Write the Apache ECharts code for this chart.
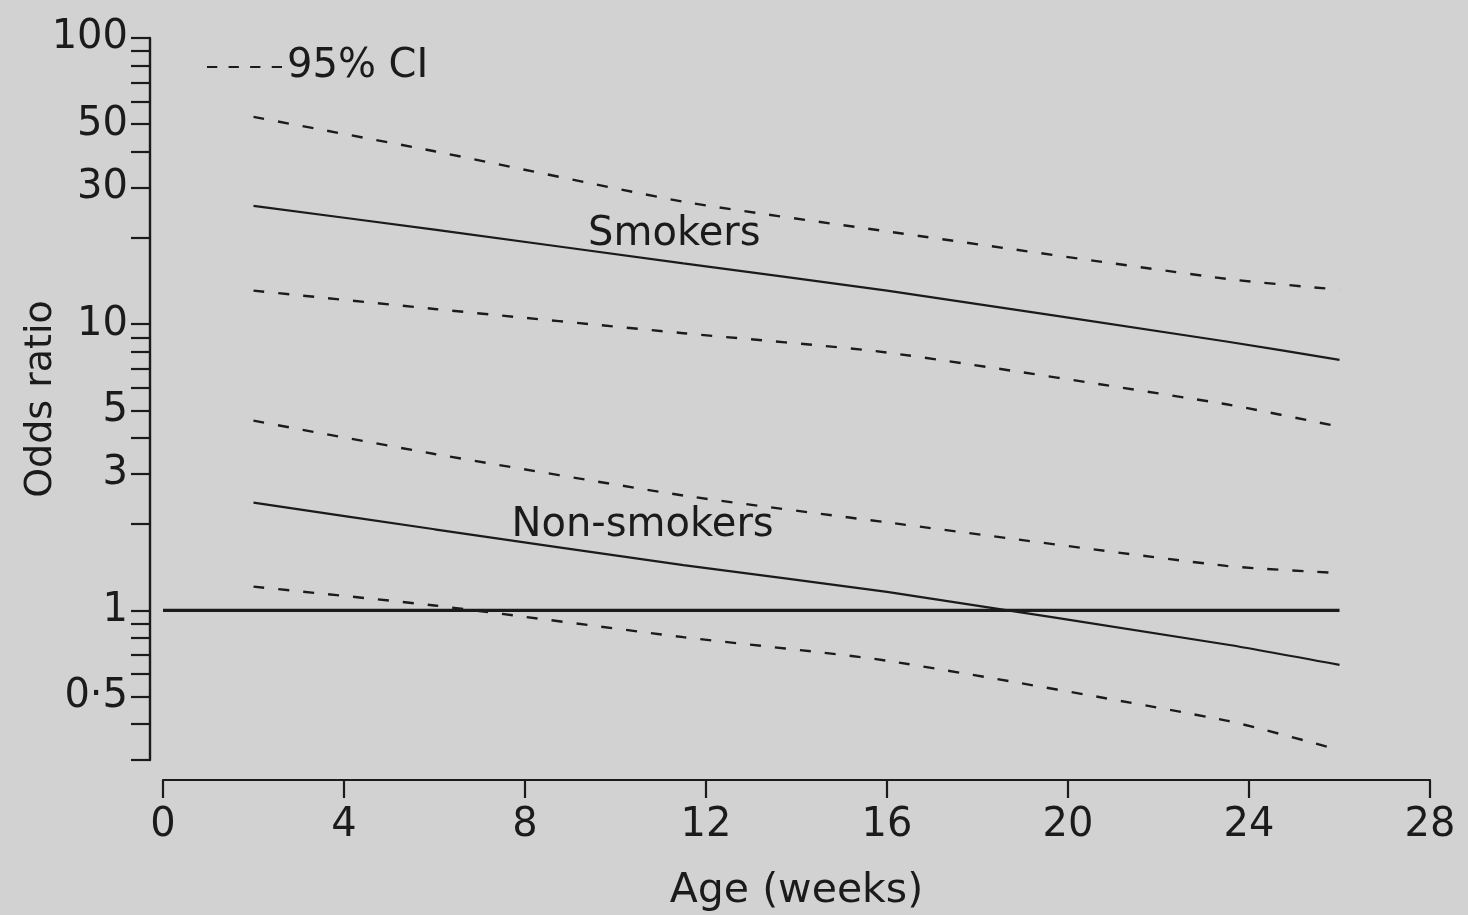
<!DOCTYPE html>
<html>
<head>
<meta charset="utf-8">
<title>Odds ratio by age</title>
<script src="https://cdn.jsdelivr.net/npm/echarts@6/dist/echarts.min.js"></script>
<style>
  html, body { margin: 0; padding: 0; background: #d2d2d2; }
  #chart { width: 1468px; height: 915px; }
</style>
</head>
<body>
<div id="chart"></div>
<script>
// Age in weeks at which each fitted curve is evaluated
const ageWeeks = [2, 6, 11.5, 16, 23.5, 26];

// Smokers: fitted odds ratio and 95% confidence limits
const smokersOR    = [25.9, 21.4, 16.3, 13.1, 8.7, 7.5];
const smokersUpper = [53, 40.2, 26.8, 21.1, 14.4, 13.2];
const smokersLower = [13.1, 11.3, 9.3, 7.96, 5.25, 4.38];

// Non-smokers: fitted odds ratio and 95% confidence limits
const nonSmokersOR    = [2.38, 1.92, 1.44, 1.16, 0.76, 0.645];
const nonSmokersUpper = [4.6, 3.52, 2.52, 2.03, 1.43, 1.35];
const nonSmokersLower = [1.21, 1.04, 0.806, 0.667, 0.412, 0.325];

// Reference line at odds ratio 1
const referenceAge = [0, 26];
const referenceOR  = [1, 1];

// Axis ticks
const xTickStep = 4;
const yTickValues = [0.3, 0.4, 0.5, 0.6, 0.7, 0.8, 0.9, 1, 2, 3, 4, 5, 6, 7, 8, 9,
                     10, 20, 30, 40, 50, 60, 70, 80, 90, 100];
const yLabelValues = [0.5, 1, 3, 5, 10, 30, 50, 100];

const ink = '#1b1b1b';
const font = 'DejaVu Sans';

// Four short dashes used as the legend key for the confidence limits
const dashedKey = 'path://M0,0h10v2h-10z M21,0h10v2h-10z M42,0h10v2h-10z M63,0h10v2h-10z';

const pairs = (xs, ys) => xs.map((x, i) => [x, ys[i]]);

const solid = (name, values) => ({
  name, type: 'line', data: pairs(ageWeeks, values),
  symbol: 'none', smooth: 0.2,
  lineStyle: { color: ink, width: 2.2, type: 'solid' }
});
const ci = (values) => ({
  name: '95% CI', type: 'line', data: pairs(ageWeeks, values),
  symbol: 'none', smooth: 0.2,
  lineStyle: { color: ink, width: 2.4, type: [11, 14] },
  itemStyle: { color: ink }
});

const chart = echarts.init(document.getElementById('chart'), null, { renderer: 'canvas' });

chart.setOption({
  animation: false,
  backgroundColor: '#d2d2d2',
  textStyle: { fontFamily: font, color: ink },
  grid: { left: 163, right: 38, top: 38, bottom: 155, containLabel: false, outerBoundsMode: 'none' },
  legend: {
    data: [{ name: '95% CI', icon: dashedKey }],
    left: 202, top: 42,
    orient: 'horizontal',
    itemWidth: 75, itemHeight: 2.4,
    selectedMode: false,
    itemStyle: { color: ink },
    textStyle: { fontFamily: font, fontSize: 40, color: ink }
  },
  xAxis: {
    type: 'value', min: 0, max: 28, interval: xTickStep,
    offset: 20,
    name: 'Age (weeks)', nameLocation: 'middle', nameGap: 91, nameMoveOverlap: false,
    nameTextStyle: { fontFamily: font, fontSize: 41, color: ink },
    axisLine: { show: true, onZero: false, lineStyle: { color: ink, width: 2.2 } },
    axisTick: { show: true, inside: false, length: 18, lineStyle: { color: ink, width: 2.2 } },
    axisLabel: { fontFamily: font, fontSize: 40, color: ink, margin: 26 },
    splitLine: { show: false }
  },
  yAxis: {
    type: 'log', logBase: 10, min: 0.3, max: 100,
    offset: 13,
    name: 'Odds ratio', nameLocation: 'middle', nameGap: 90, nameMoveOverlap: false,
    nameTextStyle: { fontFamily: font, fontSize: 38, color: ink },
    axisLine: { show: true, onZero: false, lineStyle: { color: ink, width: 2.4 } },
    axisTick: { show: true, inside: false, length: 19, customValues: yTickValues,
                lineStyle: { color: ink, width: 2.2 } },
    axisLabel: { fontFamily: font, fontSize: 40, color: ink, margin: 22,
                 customValues: yLabelValues,
                 formatter: v => String(v).replace('.', '\u00b7') },
    minorTick: { show: false },
    splitLine: { show: false }
  },
  series: [
    {
      name: 'Reference', type: 'line', data: pairs(referenceAge, referenceOR),
      symbol: 'none', lineStyle: { color: ink, width: 3.4 }
    },
    solid('Smokers', smokersOR),
    ci(smokersUpper),
    ci(smokersLower),
    solid('Non-smokers', nonSmokersOR),
    ci(nonSmokersUpper),
    ci(nonSmokersLower),
    {
      name: 'Group labels', type: 'scatter', symbolSize: 0,
      itemStyle: { opacity: 1 },
      data: [
        { value: [11.3, 20.5], label: { formatter: 'Smokers' } },
        { value: [10.6, 1.98], label: { formatter: 'Non-smokers' } }
      ],
      label: { show: true, position: 'inside', fontFamily: font, fontSize: 40,
               color: ink, opacity: 1 },
      silent: true
    }
  ]
});
</script>
</body>
</html>
